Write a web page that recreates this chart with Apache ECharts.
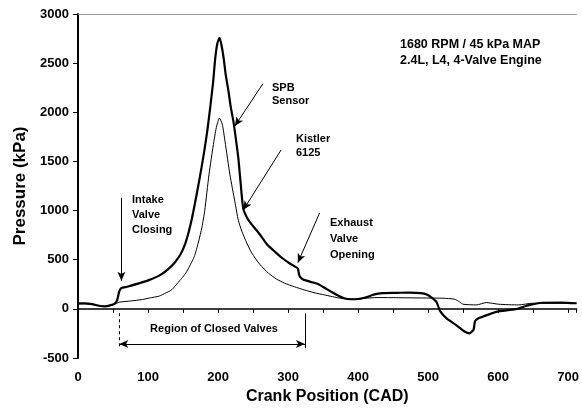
<!DOCTYPE html>
<html>
<head>
<meta charset="utf-8">
<script src="https://cdn.jsdelivr.net/npm/echarts@6/dist/echarts.min.js"></script>
<style>html,body{margin:0;padding:0;background:#fff}#c{width:582px;height:410px}</style>
</head>
<body>
<div id="c"></div>
<script>
// Thick trace (sensor pressure) – crank angle (CAD) and pressure (kPa)
const thickCad = [0,10,20,30,38,46,52,56,59,62,70,88,102,116,128,138,146,152,158,163,168,174,180,185,189,193,196,199,202,205,208,211,215,218,222,226,229,232,236,242,248,255,262,270,281,292,302,310,314,316,320,324,332,342,352,361,370,380,390,400,408,415,422,435,455,474,490,498,505,512,517,526,540,552,559,565,567,572,578,597,625,644,663,691,712];
const thickKpa = [55,55,48,32,25,35,50,90,180,212,225,262,295,338,400,470,550,640,780,930,1110,1340,1590,1830,2060,2310,2550,2700,2757,2680,2550,2380,2210,2060,1905,1700,1533,1300,1020,920,860,800,735,655,583,515,464,430,410,340,305,292,275,255,215,176,140,108,98,100,110,125,145,160,163,166,160,145,115,70,-20,-95,-165,-230,-250,-210,-125,-95,-80,-30,-3,38,62,64,57];
// Thin trace
const thinCad = [0,10,20,30,38,46,52,59,75,92,102,116,125,134,142,148,154,166,172,177,181,187,194,198,202,206,210,217,224,229,234,241,248,260,272,283,295,309,323,337,352,375,394,410,427,474,521,538,545,550,569,583,601,629,649,712];
const thinKpa = [50,52,45,33,28,36,48,68,80,95,110,130,160,195,260,310,365,530,680,830,1000,1363,1702,1860,1940,1880,1702,1363,1092,900,790,670,570,450,363,305,261,225,193,165,142,108,98,108,115,112,108,98,70,47,40,64,47,40,57,57];

// Axis settings
const xMin = 0, xMax = 712, xStep = 100;
const yMin = -500, yMax = 3000, yStep = 500;

// Annotation texts
const infoLines = ['1680 RPM / 45 kPa MAP', '2.4L, L4, 4-Valve Engine'];

const pair = (xs, ys) => xs.map((x, i) => [x, ys[i]]);
const font = 'bold 11px "Liberation Sans", Arial, sans-serif';
const txt = (t, x, y, f, align) => ({type:'text', x:x, y:y, silent:true,
  style:{text:t, fill:'#000', font:f || font, align: align || 'left', verticalAlign:'middle'}});

const arrow = (a, b) => [{coord:a, symbol:'none'}, {coord:b, symbol:'arrow', symbolSize:[6,9]}];

const chart = echarts.init(document.getElementById('c'));
chart.setOption({
  animation:false,
  backgroundColor:'#fff',
  grid:{left:78, right:0, top:14, bottom:52},
  xAxis:[{
    type:'value', min:xMin, max:xMax, interval:xStep, position:'bottom',
    axisLine:{show:true, lineStyle:{color:'#000', width:1.5}},
    axisTick:{show:true, length:4, lineStyle:{color:'#000'}},
    minorTick:{show:true, splitNumber:2, length:4, lineStyle:{color:'#000'}},
    splitLine:{show:false},
    axisLabel:{showMaxLabel:false, color:'#000', fontSize:13, fontWeight:'bold', margin:13, fontFamily:'"Liberation Sans", Arial', formatter:v => String(v)},
    name:'Crank Position (CAD)', nameLocation:'middle', nameGap:31,
    nameTextStyle:{color:'#000', fontSize:16, fontWeight:'bold', fontFamily:'"Liberation Sans", Arial'}
  },{
    type:'value', min:xMin, max:xMax, position:'top',
    axisLine:{show:true, lineStyle:{color:'#999', width:1}},
    axisTick:{show:false}, axisLabel:{show:false}, splitLine:{show:false}
  }],
  yAxis:{
    type:'value', min:yMin, max:yMax, interval:yStep,
    axisLine:{show:true, lineStyle:{color:'#000', width:2}},
    axisTick:{show:true, length:5, lineStyle:{color:'#000'}},
    splitLine:{show:false},
    axisLabel:{color:'#000', fontSize:13, fontWeight:'bold', margin:9, fontFamily:'"Liberation Sans", Arial', formatter:v => String(v)},
    name:'Pressure (kPa)', nameLocation:'middle', nameGap:48,
    nameTextStyle:{color:'#000', fontSize:17, fontWeight:'bold', fontFamily:'"Liberation Sans", Arial'}
  },
  series:[{
    name:'Thin trace', type:'line', data:pair(thinCad, thinKpa), showSymbol:false, smooth:0.2,
    lineStyle:{color:'#000', width:1}, z:2,
    markLine:{
      silent:true, animation:false, label:{show:false},
      lineStyle:{color:'#000', width:1, type:'solid'},
      data:[
        arrow([62,1130],[62,285]),
        arrow([264,2290],[224,1860]),
        arrow([290,1616],[236,1006]),
        arrow([345,975],[314,470]),
        [{coord:[59,-357], symbol:'arrow', symbolSize:[6,9]},{coord:[324,-357], symbol:'arrow', symbolSize:[6,9]}],
        [{coord:[59,-45], symbol:'none', lineStyle:{type:[3,3]}},{coord:[59,-410], symbol:'none'}],
        [{coord:[324,-45], symbol:'none'},{coord:[324,-400], symbol:'none'}]
      ]
    }
  },{
    name:'Thick trace', type:'line', data:pair(thickCad, thickKpa), showSymbol:false, smooth:0.2,
    lineStyle:{color:'#000', width:2.2}, z:3
  }],
  graphic:[
    txt(infoLines[0], 400, 45, 'bold 12.5px "Liberation Sans", Arial'),
    txt(infoLines[1], 400, 61, 'bold 12.5px "Liberation Sans", Arial'),
    txt('SPB', 272, 88), txt('Sensor', 272, 101),
    txt('Kistler', 296, 139), txt('6125', 296, 153),
    txt('Intake', 132, 200), txt('Valve', 132, 215), txt('Closing', 132, 230),
    txt('Exhaust', 330, 223), txt('Valve', 330, 239), txt('Opening', 330, 255),
    txt('Region of Closed Valves', 214, 329, null, 'center')
  ]
});
</script>
</body>
</html>
